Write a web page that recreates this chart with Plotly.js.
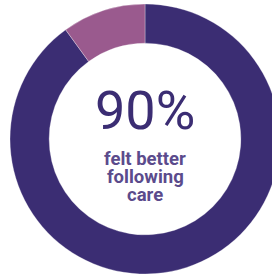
<!DOCTYPE html>
<html><head><meta charset="utf-8">
<script src="https://cdn.plot.ly/plotly-3.0.1.min.js"></script>
<style>html,body{margin:0;padding:0;overflow:hidden;background:#fff;width:272px;height:276px}</style>
</head><body><div id="chart"></div>
<script>
const labels = ["Felt better", "Did not"];
const values = [90, 10];
const colors = ["#3b2d73", "#9a5a8e"];
const bigText = "90%";
const subLines = ["felt better", "following", "care"];

const H = 276, T = 4, B = 2, PH = H - T - B;
function py(pix) { return (H - B - pix) / PH; }
const subY = [158.5, 177, 195];

const annotations = [
  {text: bigText, xref: "paper", yref: "paper", x: 0.5, y: py(111), xanchor: "center", yanchor: "middle", showarrow: false,
   font: {family: "Roboto", size: 54, color: "#3b2d73", weight: 400}}
];
subLines.forEach((t, i) => annotations.push({
  text: t, xref: "paper", yref: "paper", x: 0.5, y: py(subY[i]), xanchor: "center", yanchor: "middle", showarrow: false,
  font: {family: "Roboto", size: 18.5, color: "#5b4b8c", weight: 700}
}));

Plotly.newPlot("chart", [{
  type: "pie",
  labels: labels,
  values: values,
  hole: 0.71,
  sort: false,
  direction: "clockwise",
  rotation: 0,
  textinfo: "none",
  hoverinfo: "none",
  marker: {colors: colors, line: {color: "rgba(255,255,255,0.6)", width: 0.5}},
  domain: {x: [0, 1], y: [0, 1]}
}], {
  width: 290, height: H,
  margin: {l: 10, r: 10, t: T, b: B},
  showlegend: false,
  paper_bgcolor: "#fff",
  annotations: annotations
}, {staticPlot: true, displayModeBar: false});
</script></body></html>
